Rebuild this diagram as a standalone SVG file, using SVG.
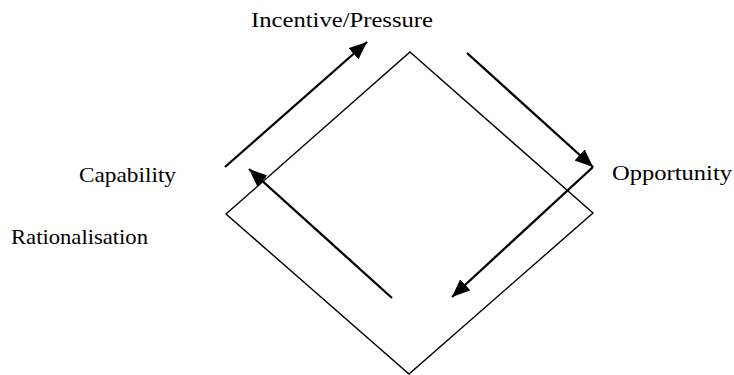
<svg xmlns="http://www.w3.org/2000/svg" width="734" height="375" viewBox="0 0 734 375">
<style>
.lbl{font-family:"Liberation Serif","DejaVu Serif",serif;font-size:22px;fill:#000}
.arr{stroke:#000;stroke-width:2.3;fill:none;marker-end:url(#ah)}
.dia{stroke:#000;stroke-width:1.4;fill:none}
</style>
<defs>
<marker id="ah" markerUnits="userSpaceOnUse" markerWidth="20" markerHeight="16" refX="18" refY="7.5" orient="auto">
<path d="M0,0 L18,7.5 L0,15 Z" fill="#000"/>
</marker>
</defs>
<rect width="734" height="375" fill="#fff"/>
<g id="diamond"><path class="dia" d="M410,52 L593,213 L409,374 L226,214 Z"/></g>
<g id="connectors">
<line class="arr" x1="225" y1="167" x2="367" y2="42"/>
<line class="arr" x1="467" y1="53" x2="593" y2="167"/>
<line class="arr" x1="593" y1="167" x2="452" y2="297"/>
<line class="arr" x1="392" y1="298" x2="249" y2="169"/>
</g>
<g id="incentive"><text class="lbl" x="251" y="27" textLength="182" lengthAdjust="spacingAndGlyphs">Incentive/Pressure</text></g>
<g id="opportunity"><text class="lbl" x="612" y="180" textLength="120" lengthAdjust="spacingAndGlyphs">Opportunity</text></g>
<g id="capability"><text class="lbl" x="79" y="182" textLength="97" lengthAdjust="spacingAndGlyphs">Capability</text></g>
<g id="rationalisation"><text class="lbl" x="11" y="244" textLength="137" lengthAdjust="spacingAndGlyphs">Rationalisation</text></g>
</svg>
